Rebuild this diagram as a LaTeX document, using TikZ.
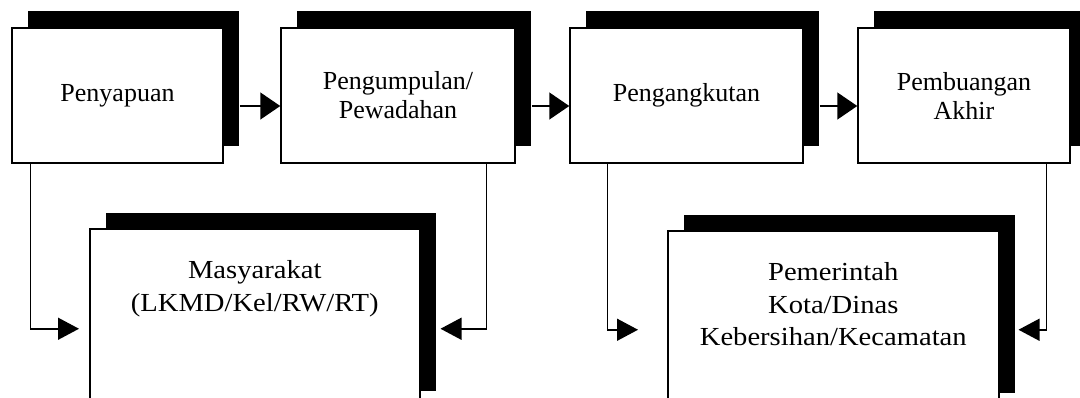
\documentclass[tikz,border=0pt]{standalone}
\usepackage{fontspec}
\setmainfont{Liberation Serif}
\newfontfamily\widefont{Liberation Serif}[FakeStretch=1.1]
\usetikzlibrary{arrows.meta,shadows}

\begin{document}
\begin{tikzpicture}[x=0.5pt, y=-0.5pt, line width=0.75pt,
  stage/.style={draw, fill=white, minimum height=67.5pt, inner sep=0pt, align=center,
    font=\fontsize{13}{14.5}\selectfont,
    drop shadow={shadow xshift=8pt, shadow yshift=8.5pt, fill=black, opacity=1}},
  actor/.style={draw, fill=white, minimum height=89pt, inner sep=0pt, align=center,
    anchor=north west, font=\widefont\fontsize{13}{16.25}\selectfont,
    drop shadow={shadow xshift=8pt, shadow yshift=8pt, fill=black, opacity=1}},
  flow/.style={-{Triangle[length=10pt,width=13.5pt]}},
  feed/.style={-{Triangle[length=10.5pt,width=11pt]}}]
  \useasboundingbox (0,0) rectangle (1080,397);

  % the four steps
  \node[stage, minimum width=105.5pt] (pen) at (117.5,95.5) {Penyapuan};
  \node[stage, minimum width=117pt]   (pgm) at (398,95.5)   {Pengumpulan/\\Pewadahan};
  \node[stage, minimum width=116.5pt] (pga) at (686.5,95.5) {Pengangkutan};
  \node[stage, minimum width=106pt]   (pmb) at (964,95.5)   {Pembuangan\\Akhir};

  % who is in charge
  \node[actor, minimum width=165pt, text height=41.25pt, text depth=47.75pt]
    (mas) at (89,228) {Masyarakat\\(LKMD/Kel/RW/RT)};
  \node[actor, minimum width=165.5pt, text height=57.5pt, text depth=31.5pt]
    (pmr) at (667,230) {Pemerintah\\Kota/Dinas\\Kebersihan/Kecamatan};

  \draw[flow] ([xshift=8pt,yshift=-5.25pt]pen.east) -- ([yshift=-5.25pt]pgm.west);
  \draw[flow] ([xshift=8pt,yshift=-5.25pt]pgm.east) -- ([yshift=-5.25pt]pga.west);
  \draw[flow] ([xshift=8pt,yshift=-5.25pt]pga.east) -- ([yshift=-5.25pt]pmb.west);

  \draw[feed] ([xshift=9.5pt]pen.south west)   |- ([xshift=-5pt,yshift=-5.5pt]mas.west);
  \draw[feed] ([xshift=-14.75pt]pgm.south east) |- ([xshift=10pt,yshift=-5.5pt]mas.east);
  \draw[feed] ([xshift=19pt]pga.south west)    |- ([xshift=-14.5pt,yshift=-5pt]pmr.west);
  \draw[feed] ([xshift=-12.25pt]pmb.south east) |- ([xshift=9.5pt,yshift=-5pt]pmr.east);
\end{tikzpicture}
\end{document}
